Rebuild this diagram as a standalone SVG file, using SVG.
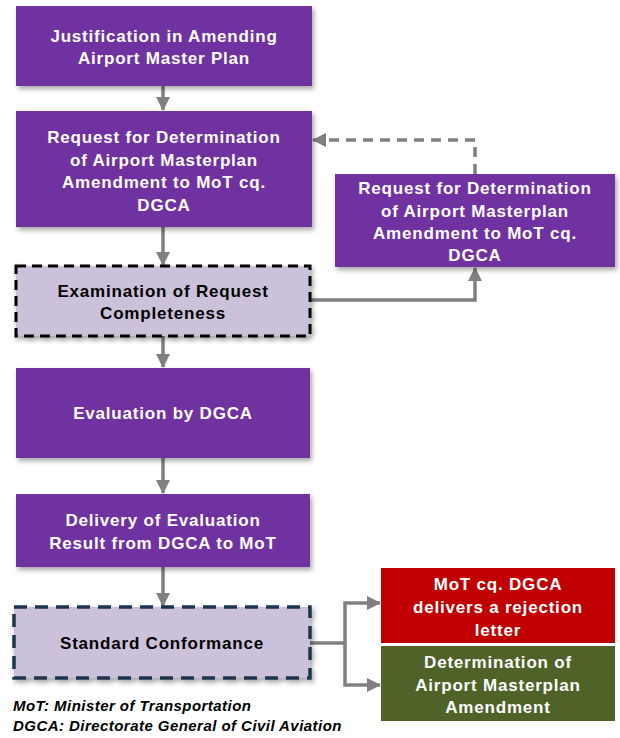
<svg xmlns="http://www.w3.org/2000/svg" width="620" height="738" viewBox="0 0 620 738">
<style>
.t{font-family:"Liberation Sans",Arial,sans-serif;font-weight:bold;font-size:17px;letter-spacing:0.8px;text-anchor:middle;fill:#fff}
.k{fill:#000}
.p{fill:#7030A0}
.c{fill:none;stroke:#808080;stroke-width:3.5}
.n{font-family:"Liberation Sans",Arial,sans-serif;font-weight:bold;font-style:italic;font-size:15px;letter-spacing:0.45px;fill:#000}
</style>
<defs>
<filter id="sh" x="-10%" y="-10%" width="125%" height="130%">
<feDropShadow dx="2" dy="3" stdDeviation="2.5" flood-color="#000" flood-opacity="0.35"/>
</filter>
<marker id="a" markerUnits="userSpaceOnUse" markerWidth="14" markerHeight="14" viewBox="0 0 14 14" refX="13" refY="7" orient="auto">
<path d="M0,0 L14,7 L0,14 z" fill="#808080"/>
</marker>
</defs>
<rect width="620" height="738" fill="#fff"/>
<g id="connectors">
<line class="c" x1="163" y1="86" x2="163" y2="110" marker-end="url(#a)"/>
<line class="c" x1="163" y1="227" x2="163" y2="265" marker-end="url(#a)"/>
<line class="c" x1="163" y1="336" x2="163" y2="367" marker-end="url(#a)"/>
<line class="c" x1="163" y1="458" x2="163" y2="493" marker-end="url(#a)"/>
<line class="c" x1="163" y1="567" x2="163" y2="606" marker-end="url(#a)"/>
<polyline class="c" points="310,300 475,300 475,268" marker-end="url(#a)"/>
<polyline class="c" points="475,174 475,140 313,140" stroke-dasharray="10,7" marker-end="url(#a)"/>
<polyline class="c" points="310,643 345,643 345,603 380,603" marker-end="url(#a)"/>
<polyline class="c" points="345,643 345,685 380,685" marker-end="url(#a)"/>
</g>
<g id="n1">
<rect class="p" x="16" y="6" width="296" height="80" filter="url(#sh)"/>
<text class="t" x="164" y="42">Justification in Amending</text>
<text class="t" x="164" y="64">Airport Master Plan</text>
</g>
<g id="n2">
<rect class="p" x="16" y="111" width="296" height="116" filter="url(#sh)"/>
<text class="t" x="164" y="143">Request for Determination</text>
<text class="t" x="164" y="166">of Airport Masterplan</text>
<text class="t" x="164" y="188">Amendment to MoT cq.</text>
<text class="t" x="164" y="211">DGCA</text>
</g>
<g id="n3">
<rect x="16" y="266" width="294" height="70" fill="#CCC1DA" stroke="#000" stroke-width="3" stroke-dasharray="10,6" filter="url(#sh)"/>
<text class="t k" x="163" y="297">Examination of Request</text>
<text class="t k" x="163" y="319">Completeness</text>
</g>
<g id="n4">
<rect class="p" x="16" y="368" width="294" height="90" filter="url(#sh)"/>
<text class="t" x="163" y="419">Evaluation by DGCA</text>
</g>
<g id="n5">
<rect class="p" x="16" y="494" width="294" height="73" filter="url(#sh)"/>
<text class="t" x="163" y="526">Delivery of Evaluation</text>
<text class="t" x="163" y="549">Result from DGCA to MoT</text>
</g>
<g id="n6">
<rect x="14" y="607" width="296" height="71" fill="#CCC1DA" stroke="#1F3550" stroke-width="3.5" stroke-dasharray="13,8" filter="url(#sh)"/>
<text class="t k" x="162" y="649">Standard Conformance</text>
</g>
<g id="n7">
<rect class="p" x="335" y="174" width="280" height="93" filter="url(#sh)"/>
<text class="t" x="475" y="194">Request for Determination</text>
<text class="t" x="475" y="217">of Airport Masterplan</text>
<text class="t" x="475" y="239">Amendment to MoT cq.</text>
<text class="t" x="475" y="261">DGCA</text>
</g>
<g id="n8">
<rect x="381" y="568" width="234" height="75" fill="#C00000"/>
<text class="t" x="498" y="590">MoT cq. DGCA</text>
<text class="t" x="498" y="613">delivers a rejection</text>
<text class="t" x="498" y="636">letter</text>
</g>
<g id="n9">
<rect x="381" y="646" width="234" height="75" fill="#4F6228"/>
<text class="t" x="498" y="668">Determination of</text>
<text class="t" x="498" y="691">Airport Masterplan</text>
<text class="t" x="498" y="713">Amendment</text>
</g>
<g id="notes">
<text class="n" x="13" y="711">MoT: Minister of Transportation</text>
<text class="n" x="13" y="731">DGCA: Directorate General of Civil Aviation</text>
</g>
</svg>
